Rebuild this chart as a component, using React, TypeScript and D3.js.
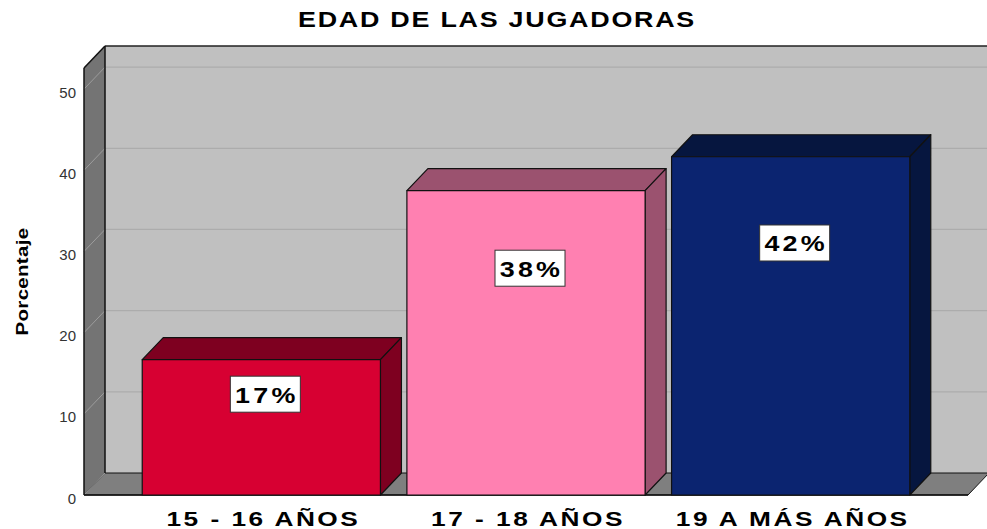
import { scaleBand, scaleLinear } from "d3";

const W = 987;
const H = 529;

const categories = ["15 - 16 AÑOS", "17 - 18 AÑOS", "19 A MÁS AÑOS"];
const percentages = [16.67, 37.5, 41.67];
const valueLabels = ["17%", "38%", "42%"];
const yTicks = [0, 10, 20, 30, 40, 50];
const frontColors = ["#d70032", "#ff80b1", "#0b2470"];
const shadeColors = ["#7e0020", "#9b526f", "#06163f"];

// front plane of the 3d box, depth offset to the back wall
const left = 84;
const right = 968;
const bottom = 495;
const top = 68;
const DX = 21;
const DY = 22;
const font = "'Liberation Sans', Arial, sans-serif";
const WIDE = 1.25; // the source text is drawn wide

export default function App() {
  const x = scaleBand<string>()
    .domain(categories)
    .range([left, right])
    .paddingInner(0.1)
    .paddingOuter(0.22);
  const y = scaleLinear().domain([0, 52.6]).range([bottom, top]);
  const bw = x.bandwidth();

  return (
    <svg width={W} height={H} style={{ position: "absolute", left: 0, top: 0, background: "#fff" }}>
      {/* title */}
      <text transform={`translate(497, 27) scale(${WIDE}, 1)`} textAnchor="middle" fontFamily={font}
        fontWeight="bold" fontSize={21.5} letterSpacing={1.4} fill="#000">
        EDAD DE LAS JUGADORAS
      </text>

      {/* back wall */}
      <rect x={left + DX} y={top - DY} width={W - left} height={bottom - top} fill="#c0c0c0" />
      {/* left wall */}
      <polygon
        points={`${left},${top} ${left + DX},${top - DY} ${left + DX},${bottom - DY} ${left},${bottom}`}
        fill="#747474" />
      {/* floor */}
      <polygon
        points={`${left},${bottom} ${left + DX},${bottom - DY} ${right + DX},${bottom - DY} ${right},${bottom}`}
        fill="#7f7f7f" stroke="#111" strokeWidth={1} />

      {/* grid */}
      {yTicks.map(t => (
        <g key={t}>
          {t > 0 && (
            <line x1={left + DX} x2={W} y1={y(t) - DY} y2={y(t) - DY} stroke="#acacac" strokeWidth={1.2} />
          )}
          <line x1={left} x2={left + DX} y1={y(t)} y2={y(t) - DY} stroke="#9c9c9c" strokeWidth={1} />
        </g>
      ))}

      {/* frame edges */}
      <line x1={left + DX} x2={W} y1={top - DY} y2={top - DY} stroke="#222" strokeWidth={1.5} />
      <line x1={left + DX} x2={left + DX} y1={top - DY} y2={bottom - DY} stroke="#111" strokeWidth={1.5} />
      <line x1={left} x2={left} y1={top} y2={bottom} stroke="#111" strokeWidth={1.5} />
      <line x1={left} x2={left + DX} y1={top} y2={top - DY} stroke="#111" strokeWidth={1.5} />
      <line x1={left} x2={right} y1={bottom} y2={bottom} stroke="#111" strokeWidth={1.5} />

      {/* y tick labels */}
      {yTicks.map(t => (
        <text key={t} x={76} y={y(t) + 3} textAnchor="end" dominantBaseline="central"
          fontFamily={font} fontSize={15} fill="#333">
          {t}
        </text>
      ))}

      {/* y axis title */}
      <text transform={`translate(22, ${(top + bottom) / 2}) rotate(-90) scale(1.2, 1)`} textAnchor="middle"
        dominantBaseline="central" fontFamily={font} fontWeight="bold" fontSize={17}
        letterSpacing={0.3} fill="#000">
        Porcentaje
      </text>

      {/* bars */}
      {categories.map((c, i) => {
        const x0 = x(c)!;
        const x1 = x0 + bw;
        const yv = y(percentages[i]);
        const y0 = y(0);
        return (
          <g key={c} stroke="#111" strokeWidth={1.2} strokeLinejoin="round">
            <polygon points={`${x0},${yv} ${x0 + DX},${yv - DY} ${x1 + DX},${yv - DY} ${x1},${yv}`}
              fill={shadeColors[i]} />
            <polygon points={`${x1},${yv} ${x1 + DX},${yv - DY} ${x1 + DX},${y0 - DY} ${x1},${y0}`}
              fill={shadeColors[i]} />
            <rect x={x0} y={yv} width={bw} height={y0 - yv} fill={frontColors[i]} />
          </g>
        );
      })}

      {/* value labels */}
      {categories.map((c, i) => {
        const cx = x(c)! + bw / 2 + 4;
        const cy = y(percentages[i] * 0.745);
        return (
          <g key={c}>
            <rect x={cx - 35} y={cy - 18} width={70} height={36} fill="#fff" stroke="#333" strokeWidth={1} />
            <text transform={`translate(${cx + 1.5}, ${cy + 1}) scale(${WIDE}, 1)`} textAnchor="middle"
              dominantBaseline="central" fontFamily={font} fontWeight="bold" fontSize={21.5}
              letterSpacing={2.6} fill="#000">
              {valueLabels[i]}
            </text>
          </g>
        );
      })}

      {/* category labels */}
      {categories.map(c => (
        <text key={c} transform={`translate(${x(c)! + bw / 2 + 2}, ${bottom + 31}) scale(${WIDE}, 1)`}
          textAnchor="middle" fontFamily={font} fontWeight="bold" fontSize={21}
          letterSpacing={2} fill="#000">
          {c}
        </text>
      ))}
    </svg>
  );
}
